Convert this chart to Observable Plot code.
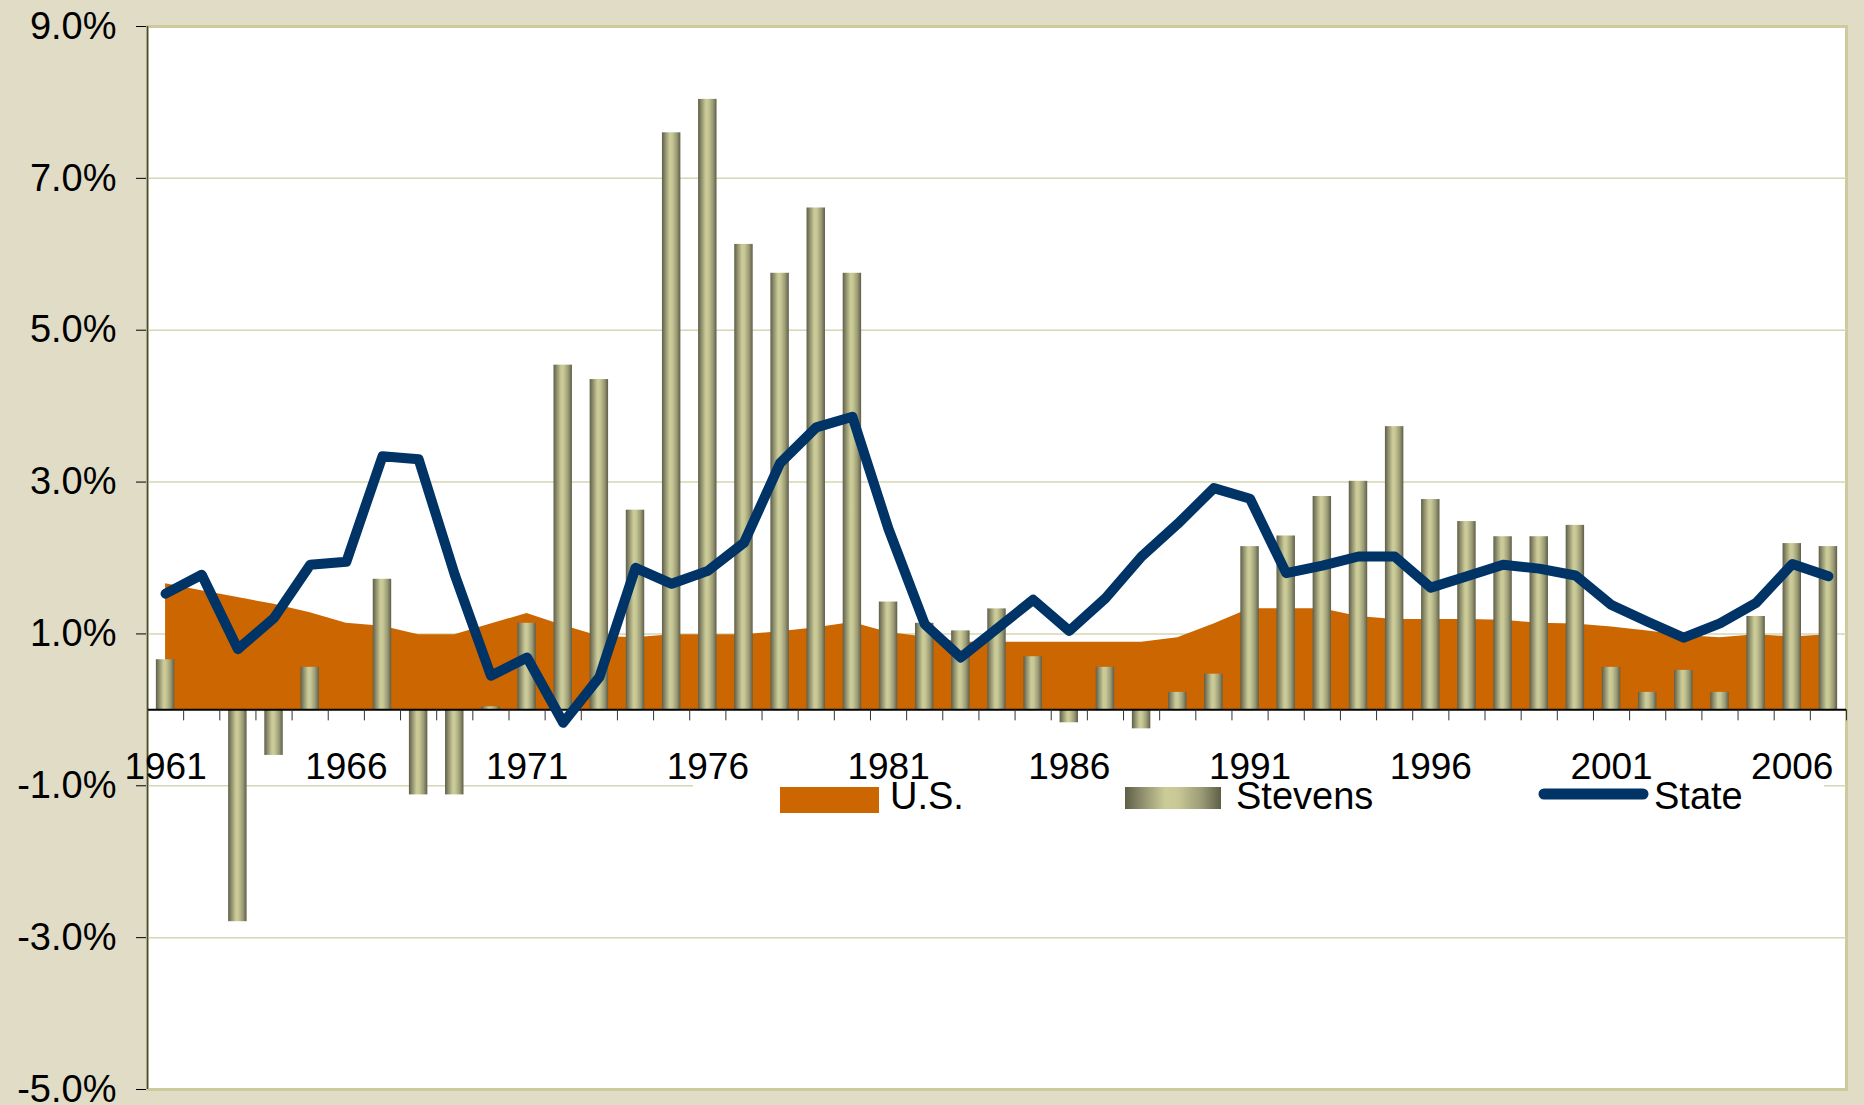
<!DOCTYPE html>
<html>
<head>
<meta charset="utf-8">
<script src="https://cdn.jsdelivr.net/npm/d3@7"></script>
<script src="https://cdn.jsdelivr.net/npm/@observablehq/plot@0.6"></script>
<style>
  html, body { margin: 0; padding: 0; background: #E0DCC6; }
  #wrap { position: relative; width: 1864px; height: 1105px; overflow: hidden; }
  #wrap svg { position: absolute; left: 0; top: 0; }
</style>
</head>
<body>
<div id="wrap"></div>
<script>
const years = d3.range(1961, 2008);
const usValues = [1.66,1.57,1.48,1.39,1.28,1.14,1.10,0.99,0.99,1.13,
                  1.27,1.11,0.97,0.95,0.99,0.99,0.99,1.03,1.08,1.15,
                  1.02,0.96,0.89,0.89,0.89,0.89,0.89,0.89,0.95,1.13,
                  1.33,1.33,1.33,1.23,1.19,1.19,1.19,1.18,1.14,1.13,
                  1.09,1.04,0.98,0.95,0.99,0.96,0.99];
const stevensValues = [0.66,0,-2.79,-0.60,0.56,0,1.72,-1.12,-1.12,0.04,
                       1.14,4.54,4.35,2.63,7.60,8.04,6.13,5.75,6.61,5.75,
                       1.42,1.14,1.04,1.33,0.70,-0.17,0.56,-0.25,0.23,0.47,
                       2.15,2.29,2.81,3.01,3.73,2.77,2.48,2.28,2.28,2.43,
                       0.56,0.23,0.52,0.23,1.23,2.19,2.15];
const stateValues = [1.53,1.78,0.80,1.21,1.91,1.95,3.34,3.30,1.78,0.45,
                     0.69,-0.17,0.43,1.87,1.66,1.83,2.20,3.25,3.72,3.86,
                     2.38,1.13,0.69,1.07,1.45,1.04,1.47,2.02,2.45,2.92,
                     2.78,1.80,1.90,2.02,2.02,1.61,1.76,1.91,1.86,1.77,
                     1.38,1.16,0.95,1.14,1.41,1.92,1.76];
const xLabelYears = [1961,1966,1971,1976,1981,1986,1991,1996,2001,2006];
const yTicks = [9,7,5,3,1,-1,-3,-5];
const gridValues = [7,5,3,1,-1,-3];
const seriesNames = ["U.S.", "Stevens", "State"];

const data = years.map((year, i) => ({year, us: usValues[i], stevens: stevensValues[i], state: stateValues[i]}));
const boundaries = d3.range(years[0] - 0.5, years[years.length - 1] + 1, 1);

const FONT = "'Liberation Sans', Arial, sans-serif";
const BORDER = "#CBCB9E";
const GRID = "#D6D6B4";
const gradStops = [["0%", "#5E5E47"], ["18%", "#8F8F6E"], ["42%", "#CCCC99"], ["55%", "#C8C896"], ["80%", "#9A9A76"], ["100%", "#5E5E47"]];

const chart = Plot.plot({
  width: 1864,
  height: 1105,
  marginLeft: 147,
  marginRight: 18,
  marginTop: 26,
  marginBottom: 16,
  style: {fontSize: "38px", fontFamily: FONT, background: "transparent", color: "#000", overflow: "visible"},
  x: {type: "linear", domain: [years[0] - 0.5, years[years.length - 1] + 0.5], axis: null},
  y: {domain: [-5, 9], ticks: yTicks, tickFormat: d => d.toFixed(1) + "%", tickSize: 11, tickPadding: 20, label: null},
  marks: [
    Plot.frame({fill: "white", stroke: BORDER, strokeWidth: 3}),
    Plot.ruleY(gridValues, {stroke: GRID, strokeWidth: 1.5}),
    Plot.area(data, {x1: "year", y1: () => 0, y2: "us", fill: "#CC6600"}),
    Plot.rect(data, {x1: d => d.year - 0.255, x2: d => d.year + 0.255, y1: () => 0, y2: "stevens", fill: "url(#barGrad)"}),
    Plot.ruleY([0], {stroke: "#000", strokeWidth: 2}),
    Plot.ruleX(boundaries, {x: d => d, y1: () => 0, y2: () => 0, insetBottom: -11, stroke: "#333", strokeWidth: 1}),
    Plot.ruleX([years[0] - 0.5], {stroke: "#4a4a3a", strokeWidth: 1.5}),
    Plot.line(data, {x: "year", y: "state", stroke: "#003366", strokeWidth: 10, strokeLinecap: "round", strokeLinejoin: "round"}),
    Plot.text(xLabelYears, {x: d => d, y: () => 0, dy: 57, text: d => String(d), fontSize: 37, fill: "#000"})
  ]
});

const svg = d3.select(chart);
const defs = svg.insert("defs", ":first-child");
const g = defs.append("linearGradient").attr("id", "barGrad").attr("x1", "0%").attr("x2", "100%").attr("y1", "0%").attr("y2", "0%");
gradStops.forEach(([o, c]) => g.append("stop").attr("offset", o).attr("stop-color", c));
document.getElementById("wrap").appendChild(chart);

// Legend (inside plot area, below the x-axis labels)
const leg = d3.select("#wrap").append("svg")
  .attr("width", 1864).attr("height", 1105)
  .style("pointer-events", "none");
const lg = leg.append("defs").append("linearGradient").attr("id", "legGrad").attr("x1", "0%").attr("x2", "100%");
gradStops.forEach(([o, c]) => lg.append("stop").attr("offset", o).attr("stop-color", c));
leg.append("rect").attr("x", 693).attr("y", 781).attr("width", 1131).attr("height", 38).attr("fill", "white");
leg.append("rect").attr("x", 780).attr("y", 787).attr("width", 99).attr("height", 26).attr("fill", "#CC6600");
leg.append("rect").attr("x", 1125).attr("y", 787).attr("width", 96).attr("height", 22).attr("fill", "url(#legGrad)");
leg.append("line").attr("x1", 1544).attr("x2", 1643).attr("y1", 794).attr("y2", 794)
  .attr("stroke", "#003366").attr("stroke-width", 11).attr("stroke-linecap", "round");
const lx = [890, 1236, 1654];
seriesNames.forEach((name, i) => {
  leg.append("text").attr("x", lx[i]).attr("y", 808.5).text(name)
    .attr("font-family", FONT).attr("font-size", 38).attr("fill", "#000");
});
</script>
</body>
</html>
